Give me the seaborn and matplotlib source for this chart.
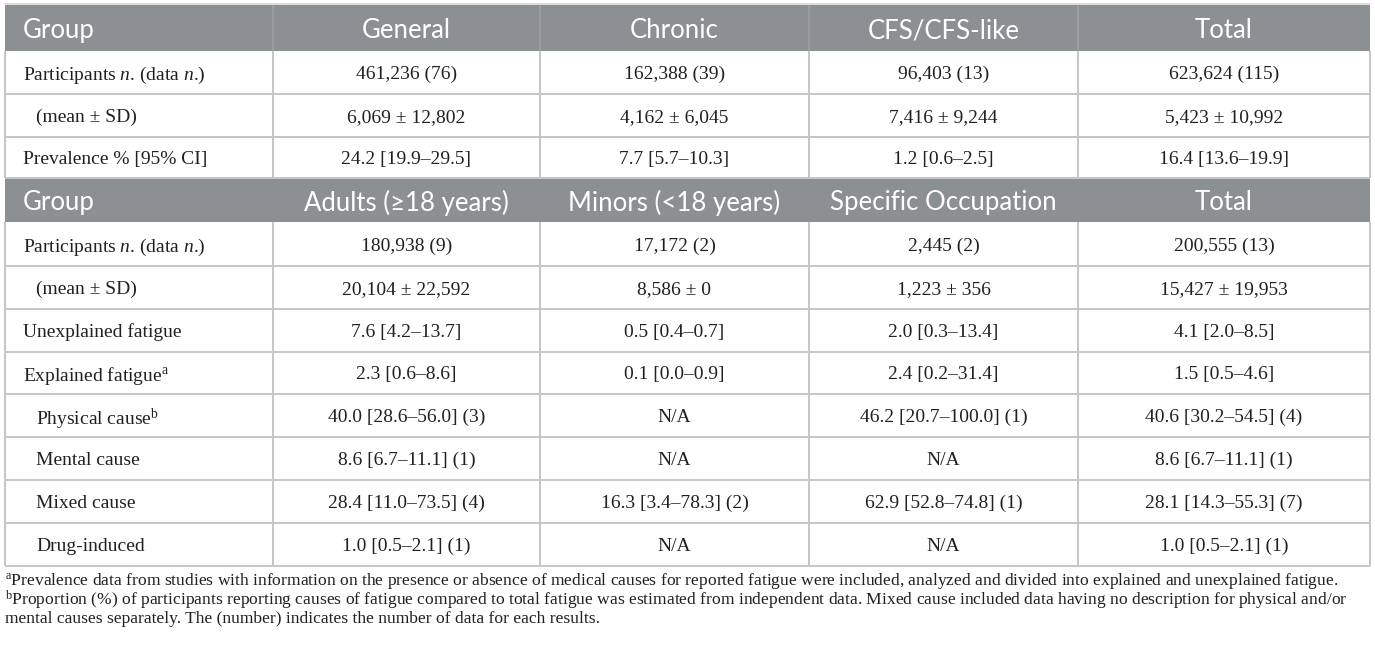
import matplotlib
matplotlib.use("Agg")
import matplotlib.pyplot as plt
import seaborn as sns
from matplotlib.patches import Rectangle

# ---------------- data ----------------
row_labels1 = ["Participants $n$. (data $n$.)", "(mean ± SD)", "Prevalence % [95% CI]"]
indent1 = [False, True, False]
groups1 = ["General", "Chronic", "CFS/CFS-like", "Total"]
participants1 = ["461,236 (76)", "162,388 (39)", "96,403 (13)", "623,624 (115)"]
mean_sd1 = ["6,069 ± 12,802", "4,162 ± 6,045", "7,416 ± 9,244", "5,423 ± 10,992"]
prevalence1 = ["24.2 [19.9–29.5]", "7.7 [5.7–10.3]", "1.2 [0.6–2.5]", "16.4 [13.6–19.9]"]

row_labels2 = ["Participants $n$. (data $n$.)", "(mean ± SD)", "Unexplained fatigue",
               "Explained fatigue$^{\\rm a}$", "Physical cause$^{\\rm b}$", "Mental cause",
               "Mixed cause", "Drug-induced"]
indent2 = [False, True, False, False, True, True, True, True]
groups2 = ["Adults (≥18 years)", "Minors (<18 years)", "Specific Occupation", "Total"]
participants2 = ["180,938 (9)", "17,172 (2)", "2,445 (2)", "200,555 (13)"]
mean_sd2 = ["20,104 ± 22,592", "8,586 ± 0", "1,223 ± 356", "15,427 ± 19,953"]
unexplained = ["7.6 [4.2–13.7]", "0.5 [0.4–0.7]", "2.0 [0.3–13.4]", "4.1 [2.0–8.5]"]
explained = ["2.3 [0.6–8.6]", "0.1 [0.0–0.9]", "2.4 [0.2–31.4]", "1.5 [0.5–4.6]"]
physical = ["40.0 [28.6–56.0] (3)", "N/A", "46.2 [20.7–100.0] (1)", "40.6 [30.2–54.5] (4)"]
mental = ["8.6 [6.7–11.1] (1)", "N/A", "N/A", "8.6 [6.7–11.1] (1)"]
mixed = ["28.4 [11.0–73.5] (4)", "16.3 [3.4–78.3] (2)", "62.9 [52.8–74.8] (1)", "28.1 [14.3–55.3] (7)"]
drug = ["1.0 [0.5–2.1] (1)", "N/A", "N/A", "1.0 [0.5–2.1] (1)"]

footnotes = [
    "$^{\\rm a}$Prevalence data from studies with information on the presence or absence of medical causes for reported fatigue were included, analyzed and divided into explained and unexplained fatigue.",
    "$^{\\rm b}$Proportion (%) of participants reporting causes of fatigue compared to total fatigue was estimated from independent data. Mixed cause included data having no description for physical and/or",
    "mental causes separately. The (number) indicates the number of data for each results.",
]

body1 = [participants1, mean_sd1, prevalence1]
body2 = [participants2, mean_sd2, unexplained, explained, physical, mental, mixed, drug]

# ---------------- style ----------------
sns.set_theme(style="white")
plt.rcParams["mathtext.fontset"] = "custom"
plt.rcParams["mathtext.rm"] = "Liberation Serif"
plt.rcParams["mathtext.it"] = "Liberation Serif:italic"
plt.rcParams["mathtext.bf"] = "Liberation Serif:bold"

HEAD_BG = "#8b9093"
GRID = "#c6c6c6"
TEXT = "#231f20"
HEAD_FONT = ["Lato", "DejaVu Sans"]
BODY_FONT = ["Liberation Serif", "DejaVu Serif"]
HEAD_SIZE = 18.5
BODY_SIZE = 14
FOOT_SIZE = 12.6

W, H = 1375, 648
fig = plt.figure(figsize=(W / 100, H / 100), dpi=100)
ax = fig.add_axes([0, 0, 1, 1])
ax.set_xlim(0, W)
ax.set_ylim(H, 0)
ax.axis("off")

col_edges = [5, 273, 540, 809, 1078, 1370]
head1 = (5, 51)
rows1 = [51, 94, 137, 178]
head2 = (178, 222)
rows2 = [222, 266, 309, 352, 394, 437, 480, 523, 566]

LEFT_X = 23
INDENT_X = 36
lw = 2.0 * 72 / 100

def header(y0, y1, labels, vlines):
    ax.add_patch(Rectangle((col_edges[0], y0), col_edges[-1] - col_edges[0], y1 - y0,
                           facecolor=HEAD_BG, edgecolor="none", zorder=1))
    if vlines:
        for x in col_edges[1:-1]:
            ax.plot([x, x], [y0, y1], color="#9a9ea0", lw=lw, zorder=2, solid_capstyle="butt")
    yc = (y0 + y1) / 2
    ax.text(LEFT_X, yc, "Group", ha="left", va="center_baseline", color="white",
            fontsize=HEAD_SIZE, family=HEAD_FONT, zorder=3)
    for i, lab in enumerate(labels):
        xc = (col_edges[i + 1] + col_edges[i + 2]) / 2
        ax.text(xc, yc, lab, ha="center", va="center_baseline", color="white",
                fontsize=HEAD_SIZE, family=HEAD_FONT, zorder=3)

def body(edges, labels, indents, cells):
    for r in range(len(labels)):
        y0, y1 = edges[r], edges[r + 1]
        yc = (y0 + y1) / 2
        ax.text(INDENT_X if indents[r] else LEFT_X, yc, labels[r], ha="left",
                va="center_baseline", color=TEXT, fontsize=BODY_SIZE, family=BODY_FONT, zorder=3)
        for c, val in enumerate(cells[r]):
            xc = (col_edges[c + 1] + col_edges[c + 2]) / 2
            ax.text(xc, yc, val, ha="center", va="center_baseline", color=TEXT,
                    fontsize=BODY_SIZE, family=BODY_FONT, zorder=3)
    for y in edges[1:]:
        ax.plot([col_edges[0], col_edges[-1]], [y, y], color=GRID, lw=lw, zorder=2,
                solid_capstyle="butt")
    for x in col_edges:
        ax.plot([x, x], [edges[0], edges[-1]], color=GRID, lw=lw, zorder=2,
                solid_capstyle="butt")

# top light rule
ax.plot([col_edges[0], col_edges[-1]], [4, 4], color="#dcdcdc", lw=lw, zorder=2)

header(head1[0], head1[1], groups1, True)
body([head1[1]] + rows1[1:], row_labels1, indent1, body1)
header(head2[0], head2[1], groups2, False)
body([head2[1]] + rows2[1:], row_labels2, indent2, body2)

foot_y = [578, 597.5, 617]
for y, t in zip(foot_y, footnotes):
    ax.text(5, y, t, ha="left", va="center_baseline", color=TEXT,
            fontsize=FOOT_SIZE, family=BODY_FONT)

fig.savefig("out.png", dpi=100, facecolor="white")
